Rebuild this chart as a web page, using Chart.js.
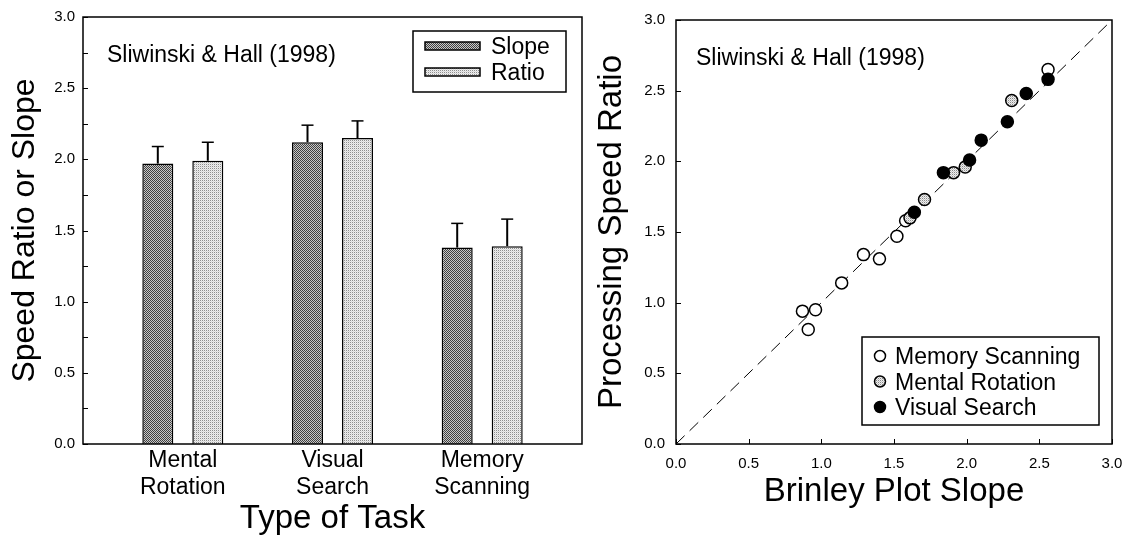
<!DOCTYPE html>
<html>
<head>
<meta charset="utf-8">
<script src="https://cdn.jsdelivr.net/npm/chart.js@4.4.1/dist/chart.umd.min.js"></script>
<style>
  html, body { margin: 0; padding: 0; background: #fff; }
  body { width: 1134px; height: 539px; position: relative; overflow: hidden; }
  .panel { position: absolute; top: 0; height: 539px; }
  #leftPanel { left: 0; width: 590px; }
  #rightPanel { left: 590px; width: 544px; }
</style>
</head>
<body>
<div class="panel" id="leftPanel"><canvas id="barChart"></canvas></div>
<div class="panel" id="rightPanel"><canvas id="scatterChart"></canvas></div>
<script>
// Left panel: Slope vs Ratio per task type
const taskLabels = [['Mental', 'Rotation'], ['Visual', 'Search'], ['Memory', 'Scanning']];
const taskIndex = [0, 1, 2];
const slopeValues = [1.97, 2.12, 1.38];
const slopeErrors = [0.12, 0.12, 0.17];
const ratioValues = [1.99, 2.15, 1.39];
const ratioErrors = [0.13, 0.12, 0.19];

// Right panel: processing speed ratio vs Brinley slope
const memoryScanning = [
  { x: 0.87, y: 0.94 }, { x: 0.91, y: 0.81 }, { x: 0.96, y: 0.95 },
  { x: 1.14, y: 1.14 }, { x: 1.29, y: 1.34 }, { x: 1.40, y: 1.31 },
  { x: 1.52, y: 1.47 }, { x: 1.58, y: 1.58 }, { x: 2.56, y: 2.65 }
];
const mentalRotation = [
  { x: 1.61, y: 1.60 }, { x: 1.71, y: 1.73 }, { x: 1.91, y: 1.92 },
  { x: 1.99, y: 1.96 }, { x: 2.31, y: 2.43 }
];
const visualSearch = [
  { x: 1.64, y: 1.64 }, { x: 1.84, y: 1.92 }, { x: 2.02, y: 2.01 },
  { x: 2.10, y: 2.15 }, { x: 2.28, y: 2.28 }, { x: 2.41, y: 2.48 },
  { x: 2.56, y: 2.58 }
];
const identityLine = [{ x: 0, y: 0 }, { x: 3, y: 3 }];

const noteText = 'Sliwinski & Hall (1998)';

Chart.defaults.font.family = "'Liberation Sans', Arial, sans-serif";
Chart.defaults.color = '#000';

// small dithered fills, like the printed figure
function makePattern(canvasId, cols) {
  const cv = document.createElement('canvas');
  cv.width = 2;
  cv.height = 2;
  const g = cv.getContext('2d');
  g.fillStyle = cols[0]; g.fillRect(0, 0, 1, 1);
  g.fillStyle = cols[1]; g.fillRect(1, 0, 1, 1);
  g.fillStyle = cols[2]; g.fillRect(0, 1, 1, 1);
  g.fillStyle = cols[3]; g.fillRect(1, 1, 1, 1);
  return document.getElementById(canvasId).getContext('2d').createPattern(cv, 'repeat');
}

const slopeFill = makePattern('barChart', ['#404040', '#c8c8c8', '#c8c8c8', '#404040']);
const ratioFill = makePattern('barChart', ['#8e8e8e', '#eeeeee', '#eeeeee', '#d8d8d8']);
const grayDot = makePattern('scatterChart', ['#8a8a8a', '#eeeeee', '#eeeeee', '#c8c8c8']);

// box round the plot + inward tick marks
const framePlugin = {
  id: 'frame',
  afterDraw(chart, args, opts) {
    const { ctx, chartArea: a } = chart;
    ctx.save();
    ctx.strokeStyle = '#000';
    ctx.lineWidth = 1.5;
    ctx.strokeRect(a.left, a.top, a.right - a.left, a.bottom - a.top);
    ctx.lineWidth = 1;
    (opts.tickAxes || []).forEach(id => {
      const s = chart.scales[id];
      s.ticks.forEach(t => {
        const p = Math.round(s.getPixelForValue(t.value)) + 0.5;
        ctx.beginPath();
        if (s.isHorizontal()) {
          ctx.moveTo(p, a.bottom);
          ctx.lineTo(p, a.bottom - opts.tickLen);
        } else {
          ctx.moveTo(a.left, p);
          ctx.lineTo(a.left + opts.tickLen, p);
        }
        ctx.stroke();
      });
    });
    ctx.restore();
  }
};

const errorBarPlugin = {
  id: 'errorBars',
  afterDatasetsDraw(chart) {
    const { ctx } = chart;
    const yScale = chart.scales.y;
    ctx.save();
    ctx.strokeStyle = '#000';
    chart.data.datasets.forEach((ds, i) => {
      if (!ds.errors) return;
      chart.getDatasetMeta(i).data.forEach((bar, j) => {
        const top = yScale.getPixelForValue(ds.data[j].y + ds.errors[j]);
        ctx.lineWidth = 2;
        ctx.beginPath();
        ctx.moveTo(bar.x, bar.y);
        ctx.lineTo(bar.x, top);
        ctx.stroke();
        ctx.lineWidth = 1.5;
        ctx.beginPath();
        ctx.moveTo(bar.x - 6, top);
        ctx.lineTo(bar.x + 6, top);
        ctx.stroke();
      });
    });
    ctx.restore();
  }
};

const notePlugin = {
  id: 'note',
  afterDraw(chart, args, opts) {
    const { ctx, chartArea: a } = chart;
    ctx.save();
    ctx.font = opts.size + "px 'Liberation Sans', Arial, sans-serif";
    ctx.fillStyle = '#000';
    ctx.textBaseline = 'alphabetic';
    ctx.fillText(opts.text, a.left + opts.dx, a.top + opts.dy);
    ctx.restore();
  }
};

// legend drawn inside the plot, in a framed box
const boxLegendPlugin = {
  id: 'boxLegend',
  afterDraw(chart, args, opts) {
    const { ctx } = chart;
    const b = opts.box;
    ctx.save();
    ctx.fillStyle = '#fff';
    ctx.fillRect(b.x, b.y, b.w, b.h);
    ctx.strokeStyle = '#000';
    ctx.lineWidth = 1.5;
    ctx.strokeRect(b.x, b.y, b.w, b.h);
    ctx.font = opts.size + "px 'Liberation Sans', Arial, sans-serif";
    ctx.textBaseline = 'middle';
    const items = chart.data.datasets.filter(ds => ds.inLegend);
    items.forEach((ds, i) => {
      const cy = b.y + opts.firstRow + i * opts.rowGap;
      ctx.lineWidth = 1.5;
      ctx.strokeStyle = '#000';
      if (opts.kind === 'bar') {
        ctx.fillStyle = ds.backgroundColor;
        ctx.fillRect(opts.markX, cy - 4, opts.markW, 8);
        ctx.strokeRect(opts.markX, cy - 4, opts.markW, 8);
      } else {
        ctx.fillStyle = ds.pointBackgroundColor;
        ctx.beginPath();
        ctx.arc(opts.markX, cy, 5.5, 0, Math.PI * 2);
        ctx.fill();
        ctx.stroke();
      }
      ctx.fillStyle = '#000';
      ctx.fillText(ds.label, opts.textX, cy + 2);
    });
    ctx.restore();
  }
};

const titleFont = { size: 33, lineHeight: 1 };

new Chart(document.getElementById('barChart'), {
  type: 'bar',
  data: {
    datasets: [
      {
        label: 'Slope',
        inLegend: true,
        data: taskIndex.map((x, i) => ({ x: x, y: slopeValues[i] })),
        errors: slopeErrors,
        backgroundColor: slopeFill,
        borderColor: '#000',
        borderWidth: 1.5,
        categoryPercentage: 0.668,
        barPercentage: 0.62
      },
      {
        label: 'Ratio',
        inLegend: true,
        data: taskIndex.map((x, i) => ({ x: x, y: ratioValues[i] })),
        errors: ratioErrors,
        backgroundColor: ratioFill,
        borderColor: '#000',
        borderWidth: 1.5,
        categoryPercentage: 0.668,
        barPercentage: 0.62
      }
    ]
  },
  options: {
    responsive: true,
    maintainAspectRatio: false,
    animation: false,
    events: [],
    layout: { padding: { top: 15, right: 8, bottom: 0, left: 0 } },
    plugins: {
      legend: { display: false },
      tooltip: { enabled: false },
      frame: { tickAxes: ['y'], tickLen: 5 },
      note: { text: noteText, size: 23, dx: 24, dy: 45 },
      boxLegend: {
        kind: 'bar', size: 23,
        box: { x: 413, y: 31, w: 153, h: 61 },
        firstRow: 15, rowGap: 26, markX: 425, markW: 55, textX: 491
      }
    },
    scales: {
      x: {
        type: 'linear',
        min: -2 / 3,
        max: 8 / 3,
        offset: false,
        afterBuildTicks: s => { s.ticks = taskIndex.map(v => ({ value: v })); },
        afterFit: s => { s.height = 95; },
        grid: { display: false, drawTicks: false },
        border: { display: false },
        ticks: {
          callback: v => taskLabels[v],
          font: { size: 23, lineHeight: 1.17 },
          padding: 3,
          maxRotation: 0,
          autoSkip: false
        },
        title: {
          display: true,
          text: 'Type of Task',
          font: titleFont,
          padding: { top: 0, bottom: 4 }
        }
      },
      y: {
        min: 0,
        max: 3,
        afterFit: s => { s.width = 83; },
        grid: { display: false, drawTicks: false },
        border: { display: false },
        ticks: {
          stepSize: 0.25,
          autoSkip: false,
          padding: 8,
          font: { size: 15 },
          callback: v => (Math.round(v * 100) % 50 === 0 ? v.toFixed(1) : '')
        },
        title: {
          display: true,
          text: 'Speed Ratio or Slope',
          font: { size: 32, lineHeight: 1 },
          padding: { top: 9, bottom: 0 }
        }
      }
    }
  },
  plugins: [framePlugin, errorBarPlugin, notePlugin, boxLegendPlugin]
});

const pointStyle = { pointRadius: 6, pointBorderColor: '#000', pointBorderWidth: 1.5, showLine: false };

new Chart(document.getElementById('scatterChart'), {
  type: 'scatter',
  data: {
    datasets: [
      Object.assign({ label: 'Memory Scanning', inLegend: true, data: memoryScanning, pointBackgroundColor: '#fff', order: 2 }, pointStyle),
      Object.assign({ label: 'Mental Rotation', inLegend: true, data: mentalRotation, pointBackgroundColor: grayDot, order: 1 }, pointStyle),
      Object.assign({ label: 'Visual Search', inLegend: true, data: visualSearch, pointBackgroundColor: '#000', order: 0 }, pointStyle),
      {
        label: 'identity',
        data: identityLine,
        showLine: true,
        pointRadius: 0,
        borderColor: '#000',
        borderWidth: 1,
        borderDash: [12, 7],
        order: 3
      }
    ]
  },
  options: {
    responsive: true,
    maintainAspectRatio: false,
    animation: false,
    events: [],
    layout: { padding: { top: 15, right: 22, bottom: 0, left: 0 } },
    plugins: {
      legend: { display: false },
      tooltip: { enabled: false },
      frame: { tickAxes: ['x', 'y'], tickLen: 5 },
      note: { text: noteText, size: 23, dx: 20, dy: 45 },
      boxLegend: {
        kind: 'point', size: 23,
        box: { x: 272, y: 337, w: 237, h: 88 },
        firstRow: 19, rowGap: 25.5, markX: 290, textX: 305
      }
    },
    scales: {
      x: {
        type: 'linear',
        min: 0,
        max: 3,
        afterFit: s => { s.height = 95; },
        grid: { display: false, drawTicks: false },
        border: { display: false },
        ticks: { stepSize: 0.5, padding: 11, font: { size: 15 }, callback: v => v.toFixed(1) },
        title: {
          display: true,
          text: 'Brinley Plot Slope',
          font: titleFont,
          padding: { top: 0, bottom: 31 }
        }
      },
      y: {
        min: 0,
        max: 3,
        afterFit: s => { s.width = 86; },
        grid: { display: false, drawTicks: false },
        border: { display: false },
        ticks: { stepSize: 0.5, padding: 11, font: { size: 15 }, callback: v => v.toFixed(1) },
        title: {
          display: true,
          text: 'Processing Speed Ratio',
          font: { size: 33, lineHeight: 1 },
          padding: { top: 5, bottom: 0 }
        }
      }
    }
  },
  plugins: [framePlugin, notePlugin, boxLegendPlugin]
});
</script>
</body>
</html>
